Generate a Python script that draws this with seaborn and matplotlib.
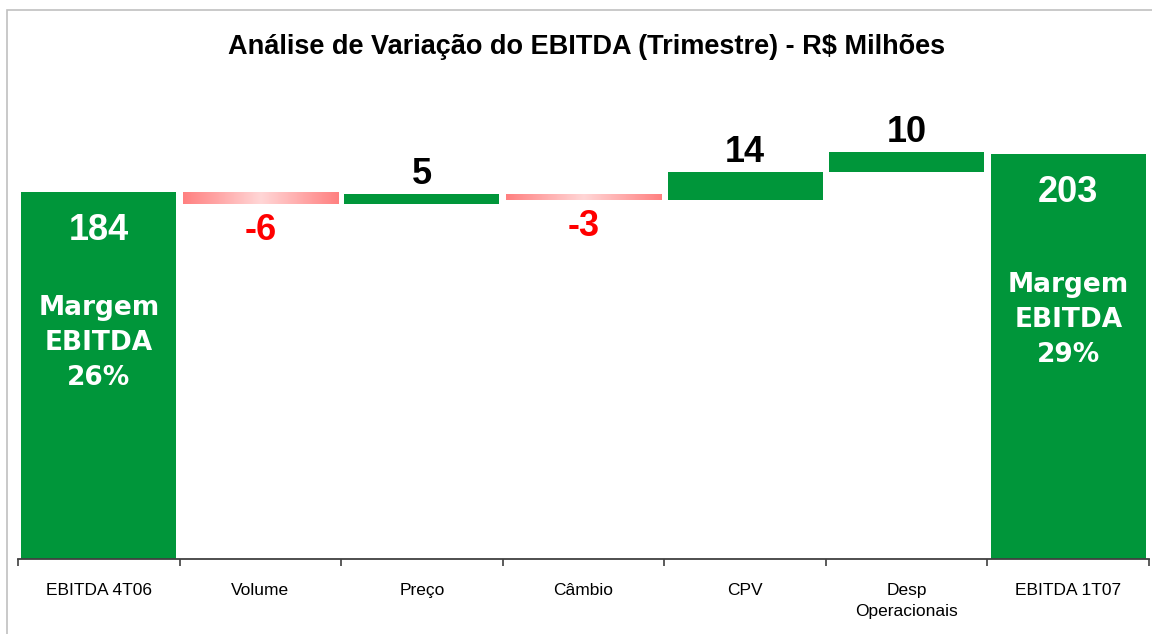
import numpy as np
import matplotlib.pyplot as plt
import seaborn as sns
from matplotlib.patches import Rectangle

# dados do gráfico
categorias = ["EBITDA 4T06", "Volume", "Preço", "Câmbio", "CPV", "Desp\nOperacionais", "EBITDA 1T07"]
ebitda_inicial = 184
variacoes = [-6, 5, -3, 14, 10]
ebitda_final = 203
margens = ["26%", "29%"]

verde = "#00963A"

sns.set_theme(style="white")
plt.rcParams['font.family'] = ['Liberation Sans', 'DejaVu Sans']
plt.rcParams['text.color'] = 'black'
plt.rcParams['xtick.color'] = 'black'

# bases e alturas das barras (cascata)
alturas = [ebitda_inicial]
bases = [0]
acum = ebitda_inicial
for v in variacoes:
    novo = acum + v
    bases.append(min(acum, novo))
    alturas.append(abs(v))
    acum = novo
alturas.append(ebitda_final)
bases.append(0)

fig = plt.figure(figsize=(11.52, 6.34), dpi=100)
ax = fig.add_axes([18 / 1152, 75 / 634, 1131 / 1152, 438.5 / 634])

sns.barplot(x=list(range(len(categorias))), y=alturas, color=verde, saturation=1,
            width=0.96, ax=ax, native_scale=True)

# degradê para as barras negativas
grad = np.abs(np.linspace(-1, 1, 256))[None, :]
cmap = plt.matplotlib.colors.LinearSegmentedColormap.from_list("neg", ["#FFD6D6", "#FF8080"])

for i, p in enumerate(ax.patches):
    p.set_y(bases[i])
    p.set_height(alturas[i])
    p.set_edgecolor("none")
    if 1 <= i <= len(variacoes) and variacoes[i - 1] < 0:
        p.set_facecolor("none")
        x0 = p.get_x()
        ax.imshow(grad, cmap=cmap, aspect="auto", interpolation="bicubic",
                  extent=[x0, x0 + p.get_width(), bases[i], bases[i] + alturas[i]], zorder=2)

# rótulos das variações
for i, v in enumerate(variacoes, start=1):
    if v >= 0:
        ax.text(i, bases[i] + alturas[i] + 1, f"{v}", ha="center", va="bottom",
                fontsize=26, fontweight="bold", color="black")
    else:
        ax.text(i, bases[i] - 4.5, f"{v}", ha="center", va="top",
                fontsize=26, fontweight="bold", color="#FF0000")

# rótulos das barras de total
for i, total, margem in [(0, ebitda_inicial, margens[0]), (len(categorias) - 1, ebitda_final, margens[1])]:
    ax.text(i, total - 19, f"{total}", ha="center", va="center",
            fontsize=26, fontweight="bold", color="white")
    ax.text(i, total * 0.59, f"Margem\nEBITDA\n{margem}", ha="center", va="center",
            fontsize=19, fontweight="bold", color="white", linespacing=1.45,
            family="DejaVu Sans")

ax.set_xlim(-0.5, len(categorias) - 0.5)
ax.set_ylim(0, 220)
ax.set_yticks([])
ax.set_xticks(range(len(categorias)))
ax.set_xticklabels(categorias, fontsize=12.5, linespacing=1.55, va="top")
ax.set_xticks(np.arange(-0.5, len(categorias)), minor=True)
ax.tick_params(axis="x", which="major", length=0, pad=17, colors="black")
ax.tick_params(axis="x", which="minor", length=5, width=1.2, color="#404040", direction="out", bottom=True)
ax.set_xlabel("")

for s in ["left", "right", "top"]:
    ax.spines[s].set_visible(False)
ax.spines["bottom"].set_color("#404040")
ax.spines["bottom"].set_linewidth(1.3)
ax.patch.set_alpha(0)

fig.text(587 / 1152, 1 - 47 / 634, "Análise de Variação do EBITDA (Trimestre) - R$ Milhões",
         ha="center", va="center", fontsize=19.5, fontweight="bold")

# moldura do gráfico
fig.patches.append(Rectangle((7 / 1152, -0.1), 1.2, 1.1 - 10 / 634, transform=fig.transFigure,
                             fill=False, edgecolor="#C0C0C0", linewidth=1.2))

fig.savefig("out.png", dpi=100)
